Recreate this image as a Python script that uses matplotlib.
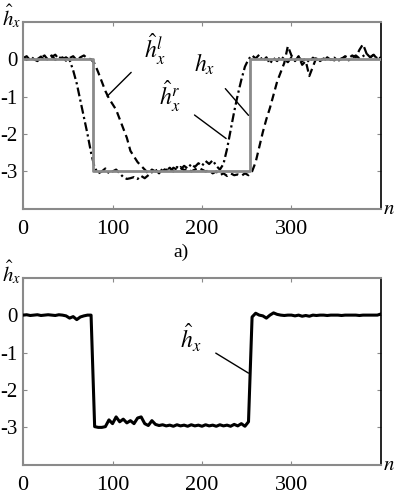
import numpy as np
import matplotlib
matplotlib.use("Agg")
import matplotlib.pyplot as plt

plt.rcParams['font.family'] = ['Liberation Serif', 'DejaVu Serif']
plt.rcParams['mathtext.fontset'] = 'stix'

# sample positions (every 4 samples)
n = np.arange(0, 401, 4)

# h_x^l (dashed)
h_l = [0.05, -0.02, 0.06, 0.00, -0.05, 0.04, 0.10, -0.03, 0.06, 0.12,
       0.00, 0.05, -0.04, 0.03, 0.08, -0.03, 0.05, 0.10, 0.02, 0.00,
       -0.12, -0.35, -0.60, -0.85, -1.05, -1.20, -1.35, -1.60, -1.85, -2.10,
       -2.45, -2.60, -2.75, -2.85, -2.95, -3.05, -2.95, -3.00, -2.92, -2.98,
       -2.95, -3.02, -2.90, -2.95, -2.88, -2.97, -2.92, -3.00, -2.95, -2.90,
       -2.95, -3.00, -2.97, -3.05, -3.00, -3.10, -3.05, -3.12, -3.05, -3.10,
       -3.08, -3.12, -3.05, -3.10, -3.00, -2.75, -2.35, -1.95, -1.60, -1.30,
       -0.95, -0.60, -0.35, -0.10, 0.35, 0.10, -0.05, 0.08, -0.15, -0.05,
       -0.45, -0.20, 0.05, -0.05, 0.02, -0.04, 0.00, -0.03, 0.05, 0.00,
       0.08, 0.03, 0.10, 0.05, 0.25, 0.40, 0.15, 0.05, 0.12, 0.00,
       0.05]

# h_x^r (dash-dot)
h_r = [0.03, 0.08, -0.04, 0.05, 0.00, 0.07, -0.03, 0.04, 0.10, -0.02,
       0.06, 0.00, 0.05, -0.02, -0.30, -0.65, -1.10, -1.55, -2.00, -2.50,
       -2.90, -3.05, -3.00, -2.92, -3.05, -3.00, -2.95, -3.05, -3.15, -3.20,
       -3.18, -3.15, -3.20, -3.12, -3.18, -3.10, -3.02, -2.95, -3.05, -2.92,
       -2.98, -2.90, -3.00, -2.88, -2.95, -2.85, -2.92, -2.80, -2.88, -2.78,
       -2.85, -2.72, -2.80, -2.70, -2.85, -2.95, -2.80, -2.40, -1.90, -1.40,
       -0.95, -0.55, -0.20, 0.00, 0.10, 0.02, 0.12, -0.05, 0.05, -0.12,
       0.03, -0.05, 0.08, 0.00, -0.08, 0.05, -0.03, 0.06, -0.05, 0.02,
       -0.08, 0.04, -0.02, 0.03, -0.06, 0.05, -0.02, 0.04, -0.05, 0.02,
       0.06, -0.03, 0.05, 0.10, 0.02, 0.08, 0.15, 0.05, 0.12, 0.02,
       0.06]

# true h_x (step)
n_true = [0, 78, 78, 254, 254, 400]
h_true = [0, 0, -3, -3, 0, 0]

# combined estimate (lower plot)
h_est = [0.00, 0.01, -0.01, 0.00, 0.01, -0.01, 0.00, 0.01, 0.00, -0.01,
         0.01, 0.00, -0.02, -0.08, -0.04, -0.12, -0.05, -0.02, 0.00, 0.00,
         -2.98, -3.00, -3.00, -2.98, -2.80, -2.90, -2.72, -2.85, -2.78, -2.88,
         -2.82, -2.90, -2.75, -2.72, -2.90, -2.95, -2.82, -2.92, -2.95, -2.93,
         -2.96, -2.94, -2.97, -2.93, -2.96, -2.94, -2.97, -2.93, -2.96, -2.94,
         -2.97, -2.93, -2.96, -2.94, -2.97, -2.93, -2.96, -2.94, -2.97, -2.92,
         -2.96, -2.90, -2.97, -2.85, -0.05, 0.05, 0.00, -0.02, -0.08, 0.00,
         0.06, 0.02, 0.00, -0.01, 0.00, 0.00, -0.02, 0.00, -0.03, -0.01,
         -0.03, 0.00, -0.01, 0.00, 0.00, -0.01, 0.00, 0.00, 0.00, -0.01,
         0.00, 0.00, 0.00, 0.00, -0.01, 0.00, 0.00, 0.00, 0.00, 0.00,
         0.03]

xticks = [0, 100, 200, 300]
yticks = [0, -1, -2, -3]
GREY = '#8a8a8a'


def style(ax, ylab_y):
    ax.set_xlim(0, 400)
    ax.set_ylim(-4, 1)
    ax.set_xticks(xticks)
    ax.set_yticks(yticks)
    ax.set_yticklabels(['0', '-1', '-2', '-3'])
    ax.tick_params(direction='in', length=3, width=0.8, top=True, right=True,
                   color=GREY)
    ax.tick_params(axis='x', labelsize=16, pad=8)
    ax.tick_params(axis='y', labelsize=15, pad=4)
    for s in ['left', 'top', 'bottom']:
        ax.spines[s].set_color(GREY)
        ax.spines[s].set_linewidth(1.5)
    ax.spines['right'].set_color('black')
    ax.spines['right'].set_linewidth(1.2)
    # axis names
    fig.text(0.005, ylab_y, r'$\hat{h}_x$', fontsize=15, ha='left', va='top')
    ax.text(1.006, -0.005, r'$n$', transform=ax.transAxes,
            fontsize=15, ha='left', va='center')


fig = plt.figure(figsize=(3.98, 4.95), dpi=100)
ax1 = fig.add_axes([0.058, 0.578, 0.899, 0.378])
ax2 = fig.add_axes([0.058, 0.061, 0.899, 0.378])

# top: two estimates and the true step
ax1.plot(n_true, h_true, color=GREY, lw=2.0, zorder=3)
ax1.plot(n, h_l, color='black', lw=1.6, ls=(0, (3.5, 2)), zorder=2)
ax1.plot(n, h_r, color='black', lw=1.6, ls=(0, (4, 1.5, 1, 1.5)), zorder=2)
style(ax1, 0.994)

ax1.annotate(r'$\hat{h}_x^l$', xy=(94, -0.99), xytext=(147, 0.27),
             fontsize=17, ha='center', va='center',
             arrowprops=dict(arrowstyle='-', lw=1.0, color='black',
                             shrinkA=10, shrinkB=0))
ax1.annotate(r'$\hat{h}_x^r$', xy=(227, -2.12), xytext=(164, -1.0),
             fontsize=17, ha='center', va='center',
             arrowprops=dict(arrowstyle='-', lw=1.0, color='black',
                             shrinkA=10, shrinkB=0))
ax1.annotate(r'$h_x$', xy=(252, -1.5), xytext=(203, -0.15),
             fontsize=17, ha='center', va='center',
             arrowprops=dict(arrowstyle='-', lw=1.0, color='black',
                             shrinkA=8, shrinkB=0))
fig.text(0.455, 0.49, 'a)', fontsize=14, ha='center', va='center')

# bottom: combined estimate
ax2.plot(n, h_est, color='black', lw=2.2, zorder=3)
style(ax2, 0.478)
ax2.annotate(r'$\hat{h}_x$', xy=(252, -1.55), xytext=(187, -0.6),
             fontsize=17, ha='center', va='center',
             arrowprops=dict(arrowstyle='-', lw=1.0, color='black',
                             shrinkA=10, shrinkB=0))

fig.savefig('out.png', dpi=100)
